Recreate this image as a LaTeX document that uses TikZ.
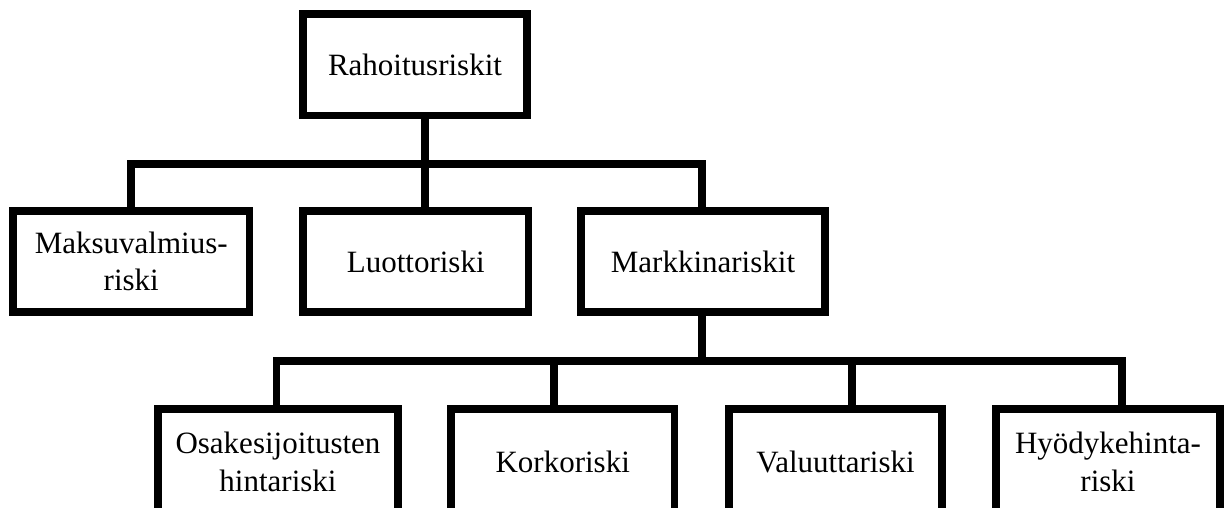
\documentclass[tikz,border=0pt]{standalone}
\usepackage{fontspec}
\setmainfont{Liberation Serif}
\begin{document}
\begin{tikzpicture}[x=1pt,y=-1pt,
  box/.style={draw=black, line width=7.5pt, rectangle, inner sep=0pt, align=center,
    font=\fontsize{31}{37.5}\selectfont},
  link/.style={draw=black, line width=7.5pt, line join=miter}]
\useasboundingbox (0,0) rectangle (1225,508);
\clip (0,0) rectangle (1225,508);
% top
\node[box, minimum width=224pt, minimum height=101.5pt] (rah) at (415,64.75) {Rahoitusriskit};
% second row
\node[box, minimum width=236.5pt, minimum height=101pt] (maks) at (131.25,261.5) {Maksuvalmius-\\riski};
\node[box, minimum width=225.5pt, minimum height=101pt] (luot) at (415.75,261.5) {Luottoriski};
\node[box, minimum width=244pt, minimum height=101pt] (mark) at (703,261.5) {Markkinariskit};
% third row
\node[box, minimum width=240pt, minimum height=106pt] (osak) at (278,462) {Osakesijoitusten\\hintariski};
\node[box, minimum width=223.5pt, minimum height=106pt] (kork) at (562.75,462) {Korkoriski};
\node[box, minimum width=213pt, minimum height=106pt] (valu) at (835.5,462) {Valuuttariski};
\node[box, minimum width=224pt, minimum height=106pt] (hyod) at (1108,462) {Hyödykehinta-\\riski};
% bus coordinates
\coordinate (t0) at (425,164);
\coordinate (t1) at (131,164);
\coordinate (t3) at (702,164);
\coordinate (m0) at (702,361);
\coordinate (b1) at (276.5,361);
\coordinate (b2) at (554,361);
\coordinate (b3) at (852,361);
\coordinate (b4) at (1122,361);
% connectors level 1
\draw[link] (rah.south -| t0) -- (luot.north -| t0);
\draw[link] (maks.north -| t1) -- (t1) -- (t3) -- (mark.north -| t3);
% connectors level 2
\draw[link] (mark.south -| m0) -- (m0);
\draw[link] (osak.north -| b1) -- (b1) -- (b4) -- (hyod.north -| b4);
\draw[link] (b2) -- (kork.north -| b2);
\draw[link] (b3) -- (valu.north -| b3);
\end{tikzpicture}
\end{document}
